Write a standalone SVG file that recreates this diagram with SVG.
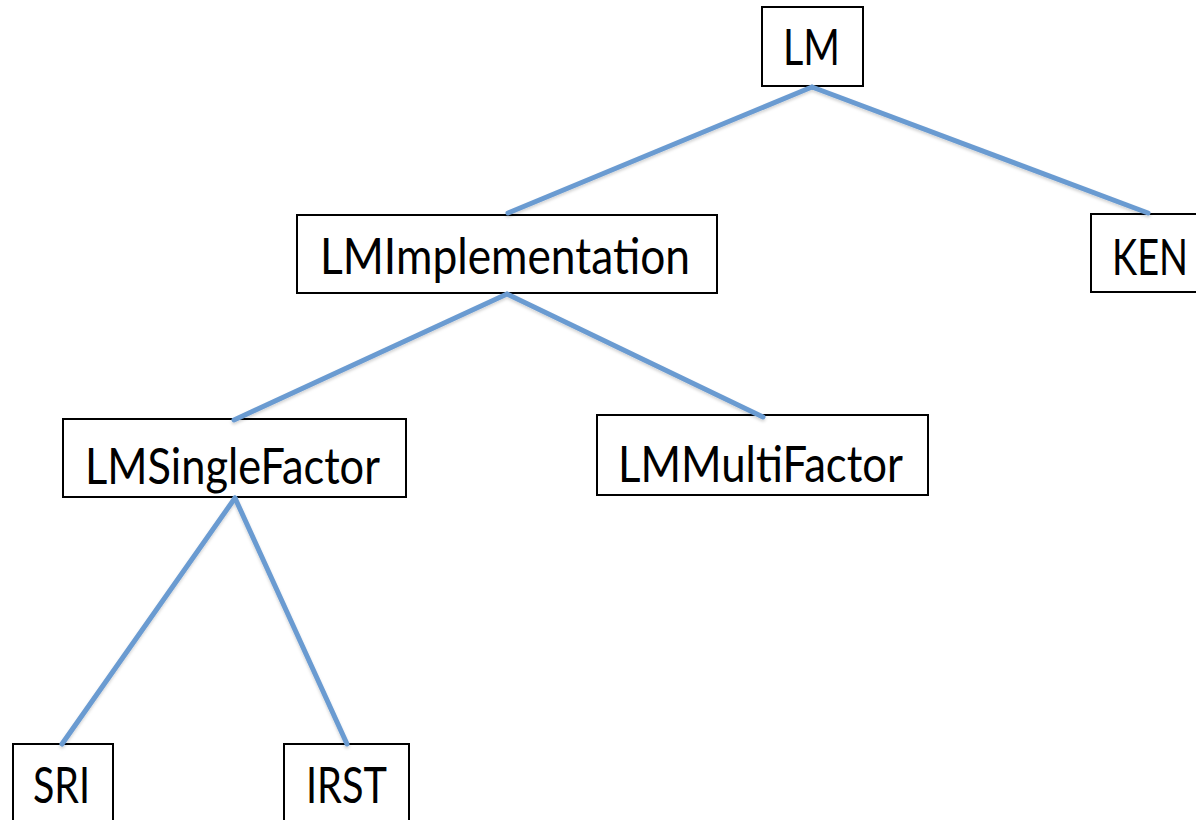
<svg xmlns="http://www.w3.org/2000/svg" width="1196" height="820" viewBox="0 0 1196 820">
  <style>
    .box { fill: #ffffff; stroke: #000000; stroke-width: 2; }
    .label { font-family: Lato, "Open Sans", "Liberation Sans", sans-serif; font-size: 50px; fill: #000000; }
    .edge { stroke: #6b9bd1; stroke-width: 5; stroke-linecap: round; fill: none; }
  </style>
  <defs>
    <filter id="soft" x="-10%" y="-10%" width="120%" height="120%">
      <feDropShadow dx="0" dy="2" stdDeviation="1.5" flood-color="#000" flood-opacity="0.18"/>
    </filter>
  </defs>
  <rect width="1196" height="820" fill="#ffffff"/>

  <g id="node-lm">
    <rect class="box" x="762" y="7" width="101" height="79"/>
    <text class="label" x="783" y="65" textLength="57" lengthAdjust="spacingAndGlyphs">LM</text>
  </g>
  <g id="node-lmimplementation">
    <rect class="box" x="297" y="215" width="420" height="78"/>
    <text class="label" x="320" y="274" textLength="370" lengthAdjust="spacingAndGlyphs">LMImplementation</text>
  </g>
  <g id="node-ken">
    <rect class="box" x="1091" y="214" width="110" height="78"/>
    <text class="label" x="1112" y="275" textLength="76" lengthAdjust="spacingAndGlyphs">KEN</text>
  </g>
  <g id="node-lmsinglefactor">
    <rect class="box" x="63" y="419" width="343" height="78"/>
    <text class="label" x="85" y="484" textLength="295" lengthAdjust="spacingAndGlyphs">LMSingleFactor</text>
  </g>
  <g id="node-lmmultifactor">
    <rect class="box" x="597" y="415" width="331" height="80"/>
    <text class="label" x="618" y="482" textLength="285" lengthAdjust="spacingAndGlyphs">LMMultiFactor</text>
  </g>
  <g id="node-sri">
    <rect class="box" x="13" y="744" width="100" height="90"/>
    <text class="label" x="33" y="803" textLength="57" lengthAdjust="spacingAndGlyphs">SRI</text>
  </g>
  <g id="node-irst">
    <rect class="box" x="284" y="744" width="125" height="90"/>
    <text class="label" x="306" y="803" textLength="81" lengthAdjust="spacingAndGlyphs">IRST</text>
  </g>

  <g id="connectors" filter="url(#soft)">
    <line class="edge" x1="812" y1="87" x2="508" y2="213"/>
    <line class="edge" x1="812" y1="87" x2="1148" y2="213"/>
    <line class="edge" x1="507" y1="294" x2="234" y2="420"/>
    <line class="edge" x1="507" y1="294" x2="763" y2="417"/>
    <line class="edge" x1="235" y1="498" x2="62" y2="744"/>
    <line class="edge" x1="235" y1="498" x2="347" y2="744"/>
  </g>
</svg>
